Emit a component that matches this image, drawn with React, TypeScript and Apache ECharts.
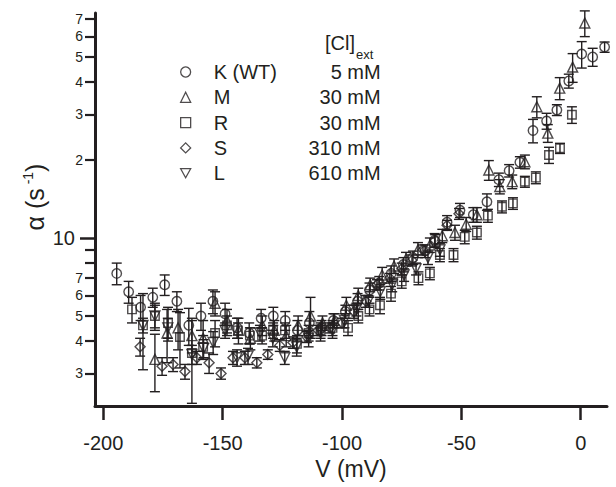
import React, { useEffect, useRef } from "react";
import * as echarts from "echarts";

// [V (mV), alpha (s^-1), error]
const K_WT = [
  [-194.4, 7.3, 0.7], [-189.4, 6.2, 0.6], [-184.4, 5.4, 0.6], [-179.3, 5.9, 0.5],
  [-174.3, 6.6, 0.6], [-169.2, 5.7, 0.5], [-164.2, 4.6, 0.75], [-159.1, 5.0, 0.6],
  [-154.1, 5.7, 0.6], [-149.0, 5.1, 0.5], [-144.0, 4.5, 0.4], [-138.9, 4.3, 0.4],
  [-133.9, 4.9, 0.4], [-128.8, 5.0, 0.4], [-123.8, 4.8, 0.4], [-118.7, 4.4, 0.4],
  [-113.7, 4.7, 0.5], [-108.6, 4.5, 0.3], [-103.6, 4.8, 0.3], [-98.6, 5.2, 0.3],
  [-93.5, 5.7, 0.4], [-88.5, 6.3, 0.4], [-84.4, 6.7, 0.4], [-79.4, 7.3, 0.5],
  [-74.3, 7.9, 0.5], [-70.3, 8.4, 0.5], [-65.2, 8.9, 0.5], [-61.2, 9.8, 0.6],
  [-56.0, 11.5, 0.7], [-50.6, 12.8, 0.8], [-45.0, 12.3, 0.8], [-39.3, 13.8, 1.0],
  [-34.3, 16.8, 1.0], [-30.0, 18.2, 1.0], [-25.5, 19.6, 1.0], [-20.0, 26.0, 2.7],
  [-14.3, 28.3, 2.0], [-10.0, 31.2, 1.5], [-5.0, 40.4, 2.5], [0.4, 51.3, 6.0],
  [5.0, 50.0, 4.0], [10.0, 54.6, 2.5],
];
const M = [
  [-178.4, 3.4, 0.85], [-173.3, 4.3, 1.0], [-168.7, 4.5, 0.8], [-162.9, 4.2, 0.6],
  [-158.2, 4.1, 0.7], [-153.2, 5.6, 0.6], [-148.2, 4.8, 0.5], [-143.4, 4.4, 0.5],
  [-138.4, 4.1, 0.4], [-133.4, 4.6, 0.4], [-128.4, 4.4, 0.4], [-123.4, 4.2, 0.4],
  [-118.4, 4.6, 0.4], [-113.2, 5.0, 0.9], [-108.2, 4.7, 0.3], [-103.2, 4.8, 0.3],
  [-98.2, 5.5, 0.4], [-93.2, 6.0, 0.4], [-88.2, 6.6, 0.4], [-83.2, 7.2, 0.5],
  [-78.2, 7.8, 0.5], [-73.2, 8.3, 0.5], [-68.2, 9.0, 0.6], [-63.2, 9.4, 0.6],
  [-58.0, 10.2, 0.6], [-52.7, 10.5, 0.7], [-48.0, 11.3, 0.7], [-43.5, 12.3, 0.8],
  [-38.5, 18.3, 1.6], [-33.9, 15.8, 1.0], [-28.7, 16.5, 1.0], [-23.4, 19.7, 1.2],
  [-18.4, 32.1, 3.0], [-13.8, 25.4, 2.0], [-8.8, 37.9, 3.7], [-3.4, 45.7, 5.8],
  [1.7, 67.6, 7.7],
];
const R = [
  [-188.0, 5.3, 0.6], [-183.4, 4.6, 1.5], [-178.4, 5.0, 0.6], [-172.9, 4.7, 0.7],
  [-167.9, 4.15, 1.0], [-162.9, 3.6, 1.3], [-158.2, 3.8, 0.4], [-153.2, 4.3, 0.5],
  [-148.2, 4.6, 0.4], [-143.6, 4.4, 0.3], [-138.6, 4.2, 0.3], [-133.5, 4.2, 0.3],
  [-128.9, 4.4, 0.3], [-123.9, 4.4, 0.3], [-118.9, 3.9, 0.3], [-114.0, 4.3, 0.3],
  [-109.0, 4.4, 0.3], [-104.0, 4.5, 0.3], [-97.5, 4.5, 0.3], [-93.2, 5.0, 0.3],
  [-88.5, 5.3, 0.3], [-84.1, 5.5, 0.4], [-79.5, 6.1, 0.4], [-75.0, 6.8, 0.4],
  [-68.0, 7.0, 0.4], [-63.2, 7.3, 0.4], [-59.0, 8.6, 0.5], [-53.3, 8.6, 0.5],
  [-48.6, 10.1, 0.6], [-43.5, 10.5, 0.6], [-38.9, 12.2, 0.7], [-33.0, 13.2, 0.7],
  [-28.4, 13.6, 0.7], [-23.4, 16.5, 0.8], [-18.8, 17.1, 0.9], [-13.3, 20.9, 1.5],
  [-8.7, 22.2, 1.0], [-3.7, 29.9, 2.2],
];
const S = [
  [-184.6, 3.8, 0.3], [-175.4, 3.2, 0.25], [-170.8, 3.25, 0.2], [-165.8, 3.05, 0.2],
  [-160.8, 3.45, 0.2], [-155.7, 3.3, 0.3], [-150.7, 3.0, 0.15], [-145.7, 3.45, 0.2],
  [-140.7, 3.45, 0.2], [-135.7, 3.3, 0.15], [-131.1, 3.55, 0.15], [-126.1, 3.85, 0.2],
  [-120.6, 3.95, 0.2], [-114.7, 4.15, 0.2], [-110.0, 4.4, 0.2], [-105.0, 4.5, 0.2],
  [-100.0, 4.7, 0.2], [-95.0, 5.2, 0.3], [-90.0, 5.7, 0.3], [-85.4, 6.6, 0.3],
  [-80.0, 7.0, 0.3], [-75.0, 7.6, 0.4], [-70.7, 8.2, 0.4], [-66.1, 9.0, 0.4],
  [-61.0, 9.8, 0.5], [-56.0, 11.2, 0.5], [-51.0, 12.4, 0.6],
];
const L = [
  [-183.4, 4.6, 0.3], [-178.4, 5.0, 0.5], [-173.0, 4.5, 0.4], [-162.9, 3.55, 0.3],
  [-158.0, 3.75, 0.3], [-154.0, 3.95, 0.4], [-149.0, 4.4, 0.3], [-144.0, 3.45, 0.25],
  [-139.4, 3.5, 0.25], [-134.4, 4.3, 0.3], [-129.0, 4.1, 0.3], [-124.0, 3.45, 0.2],
  [-119.0, 3.8, 0.3], [-114.0, 4.1, 0.3], [-109.0, 4.3, 0.3], [-104.0, 4.4, 0.3],
  [-99.0, 4.8, 0.3], [-94.0, 5.3, 0.3], [-89.0, 5.7, 0.3], [-84.0, 6.2, 0.4],
  [-79.0, 6.6, 0.4], [-74.0, 7.2, 0.4], [-69.0, 7.6, 0.4], [-64.0, 8.4, 0.5],
  [-59.0, 9.0, 0.5],
];

const SERIES_NAMES = ["K (WT)", "M", "R", "S", "L"];
const CONCENTRATIONS = ["5 mM", "30 mM", "30 mM", "310 mM", "610 mM"];
const X_TICKS = [-200, -150, -100, -50, 0];
const Y_MAJOR = [10];
const Y_TICKS = [3, 4, 5, 6, 7, 8, 9, 20, 30, 40, 50, 60, 70];
const Y_LABELS = [3, 4, 5, 6, 7, 20, 30, 40, 50, 60, 70];

const INK = "#231f20";
const FONT = "'Liberation Sans', Arial, Helvetica, sans-serif";

const SYMBOLS = ["circle", "triangle", "rect", "diamond", "path://M0,0L10,0L5,9Z"];
const SIZES = [9.5, 10, 8.5, 10, 10];
const DATASETS = [K_WT, M, R, S, L];

export default function App() {
  const ref = useRef<HTMLDivElement>(null);
  useEffect(() => {
    if (!ref.current) return;
    const chart = echarts.init(ref.current, null, { renderer: "svg" });

    const scatterSeries = DATASETS.map((d, i) => ({
      type: "scatter",
      name: SERIES_NAMES[i],
      data: d.map((p) => [p[0], p[1]]),
      symbol: SYMBOLS[i],
      symbolSize: SIZES[i],
      itemStyle: { color: "rgba(255,255,255,0)", borderColor: INK, borderWidth: 1.4 },
      silent: true,
      z: 3,
    }));

    const errSeries = DATASETS.map((d, i) => ({
      type: "custom",
      name: SERIES_NAMES[i] + " err",
      data: d.map((p) => [p[0], p[1] - p[2], p[1] + p[2]]),
      encode: { x: 0, y: [1, 2] },
      silent: true,
      z: 2,
      renderItem: (params: any, api: any) => {
        const x = api.value(0);
        const lo = api.coord([x, api.value(1)]);
        const hi = api.coord([x, api.value(2)]);
        const w = 5;
        const st = { stroke: INK, lineWidth: 1.4 };
        return {
          type: "group",
          children: [
            { type: "line", shape: { x1: lo[0], y1: lo[1], x2: hi[0], y2: hi[1] }, style: st },
            { type: "line", shape: { x1: lo[0] - w, y1: lo[1], x2: lo[0] + w, y2: lo[1] }, style: st },
            { type: "line", shape: { x1: hi[0] - w, y1: hi[1], x2: hi[0] + w, y2: hi[1] }, style: st },
          ],
        };
      },
    }));

    const yBase = {
      type: "log",
      logBase: 10,
      min: 2.246,
      max: 73.9,
      position: "left",
      splitLine: { show: false },
      minorTick: { show: false },
    };

    chart.setOption({
      animation: false,
      backgroundColor: "#ffffff",
      grid: { left: 95, right: 9, top: 13, bottom: 81 },
      xAxis: {
        type: "value",
        min: -203.5,
        max: 11,
        axisLine: { show: true, onZero: false, lineStyle: { color: INK, width: 3 } },
        axisTick: { show: true, customValues: X_TICKS, length: 14, lineStyle: { color: INK, width: 2.5 } },
        axisLabel: { customValues: X_TICKS, fontSize: 20, margin: 27, color: INK, fontFamily: FONT },
        splitLine: { show: false },
        name: "V (mV)",
        nameLocation: "middle",
        nameGap: 50,
        nameTextStyle: { fontSize: 23, color: INK, fontFamily: FONT },
      },
      yAxis: [
        {
          ...yBase,
          axisLine: { show: true, onZero: false, lineStyle: { color: INK, width: 3 } },
          axisTick: { show: true, customValues: Y_MAJOR, length: 15, lineStyle: { color: INK, width: 2.5 } },
          axisLabel: {
            customValues: Y_MAJOR,
            fontSize: 20,
            margin: 20,
            color: INK,
            fontFamily: FONT,
            formatter: (v: number) => String(Math.round(v)),
          },
        },
        {
          ...yBase,
          axisLine: { show: false, onZero: false },
          axisTick: { show: true, customValues: Y_TICKS, length: 10, lineStyle: { color: INK, width: 2.2 } },
          axisLabel: {
            customValues: Y_LABELS,
            fontSize: 14,
            margin: 12,
            color: INK,
            fontFamily: FONT,
            formatter: (v: number) => {
              const r = Math.round(v);
              return String(r >= 20 ? r / 10 : r);
            },
          },
        },
      ],
      legend: {
        data: SERIES_NAMES,
        orient: "vertical",
        left: 180,
        top: 62,
        padding: 0,
        itemWidth: 10,
        itemHeight: 10,
        itemGap: 5.3,
        selectedMode: false,
        itemStyle: { borderWidth: 1.3, borderColor: INK, color: "rgba(255,255,255,0)" },
        formatter: (name: string) => {
          const i = SERIES_NAMES.indexOf(name);
          return `{s| }{a|${name}}{b|${CONCENTRATIONS[i]}}`;
        },
        textStyle: {
          fontSize: 20,
          fontFamily: FONT,
          color: INK,
          rich: {
            s: { width: 18, fontSize: 20, lineHeight: 20, fontFamily: FONT },
            a: { width: 80, fontSize: 20, lineHeight: 20, fontFamily: FONT, color: INK },
            b: { width: 87, align: "right", fontSize: 20, lineHeight: 20, fontFamily: FONT, color: INK },
          },
        },
      },
      graphic: [
        {
          type: "text",
          x: 35,
          y: 197,
          rotation: Math.PI / 2,
          style: {
            text: "{a|α (s}{b| -1}{a|)}",
            align: "center",
            verticalAlign: "middle",
            rich: {
              a: { fontSize: 25, fontFamily: FONT, fill: INK, lineHeight: 28 },
              b: { fontSize: 14, fontFamily: FONT, fill: INK, verticalAlign: "top", lineHeight: 16 },
            },
          },
        },
        {
          type: "text",
          x: 325,
          y: 43,
          style: { text: "[Cl]", fontSize: 20, fontFamily: FONT, fill: INK, align: "left", verticalAlign: "middle" },
        },
        {
          type: "text",
          x: 356,
          y: 54,
          style: { text: "ext", fontSize: 13, fontFamily: FONT, fill: INK, align: "left", verticalAlign: "middle" },
        },
      ],
      series: [...errSeries, ...scatterSeries],
    });

    return () => chart.dispose();
  }, []);

  return (
    <div
      ref={ref}
      style={{ position: "fixed", left: 0, top: 0, width: 616, height: 487, background: "#fff" }}
    />
  );
}
